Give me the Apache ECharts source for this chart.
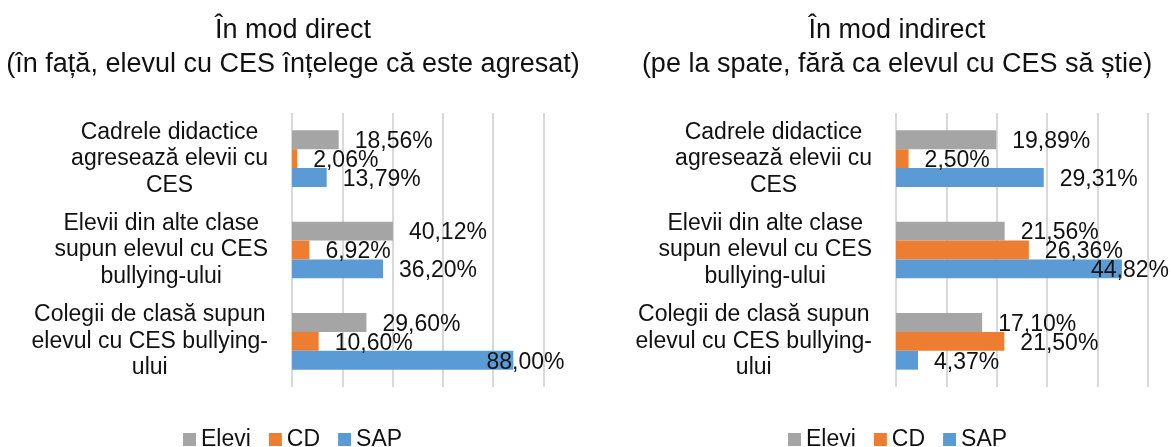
<!DOCTYPE html>
<html>
<head>
<meta charset="utf-8">
<script src="https://cdn.jsdelivr.net/npm/echarts@6/dist/echarts.min.js"></script>
<style>
  html, body { margin: 0; padding: 0; background: #fff; }
  #chart { width: 1172px; height: 447px; }
</style>
</head>
<body>
<div id="chart"></div>
<script>
const categories = [
  'Cadrele didactice\nagresează elevii cu\nCES',
  'Elevii din alte clase\nsupun elevul cu CES\nbullying-ului',
  'Colegii de clasă supun\nelevul cu CES bullying-\nului',
]
const seriesNames = ['Elevi', 'CD', 'SAP']
const colors = ['#A5A5A5', '#ED7D31', '#5B9BD5']

const directTitle = 'În mod direct\n(în față, elevul cu CES înțelege că este agresat)'
const indirectTitle = 'În mod indirect\n(pe la spate, fără ca elevul cu CES să știe)'

const directElevi = [18.56, 40.12, 29.6]
const directCD = [2.06, 6.92, 10.6]
const directSAP = [13.79, 36.2, 88.0]

const indirectElevi = [19.89, 21.56, 17.1]
const indirectCD = [2.5, 26.36, 21.5]
const indirectSAP = [29.31, 44.82, 4.37]

const FONT = "'Liberation Sans', Arial, sans-serif"
const TEXT = '#111'

const chart = echarts.init(document.getElementById('chart'))

const fmt = (v) => v.toFixed(2).replace('.', ',') + '%'

function labelWrap(v) {
  return v.split('\n').map((l) => '{c|' + l + '}').join('\n')
}

const panels = [
  { data: [directElevi, directCD, directSAP], max: 100, interval: 20 },
  { data: [indirectElevi, indirectCD, indirectSAP], max: 50, interval: 10 },
]

function buildSeries(offsets) {
  const out = []
  panels.forEach((p, g) => {
    p.data.forEach((vals, s) => {
      out.push({
        name: seriesNames[s],
        type: 'bar',
        xAxisIndex: g,
        yAxisIndex: g,
        barGap: '0%',
        barCategoryGap: '38%',
        itemStyle: { color: colors[s] },
        data: vals.map((v, i) => {
          const off = offsets ? offsets[g][s][i] : 0
          return { value: v, label: { offset: [off, 2] } }
        }),
        label: {
          show: true,
          position: 'right',
          distance: 16,
          color: TEXT,
          fontSize: 23,
          fontFamily: FONT,
          formatter: (p) => fmt(p.value),
        },
      })
    })
  })
  return out
}

const grids = [
  { left: 292, width: 251.5, top: 113, height: 274 },
  { left: 896, width: 252, top: 113, height: 274 },
]

const titleStyle = { fontSize: 27, fontWeight: 'normal', color: TEXT, lineHeight: 34, fontFamily: FONT }
const legendBase = {
  data: seriesNames,
  top: 428,
  padding: 0,
  itemWidth: 13,
  itemHeight: 13,
  itemGap: 18,
  icon: 'rect',
  textStyle: { fontSize: 23, color: TEXT, fontFamily: FONT },
}

const option = {
  animation: false,
  backgroundColor: '#fff',
  textStyle: { fontFamily: FONT },
  title: [
    { text: directTitle, left: 293, top: 14, textAlign: 'center', padding: 0, textStyle: titleStyle },
    { text: indirectTitle, left: 897, top: 14, textAlign: 'center', padding: 0, textStyle: titleStyle },
  ],
  legend: [
    { ...legendBase, left: 183 },
    { ...legendBase, left: 788 },
  ],
  grid: grids,
  xAxis: panels.map((p, g) => ({
    type: 'value',
    gridIndex: g,
    min: 0,
    max: p.max,
    interval: p.interval,
    axisLabel: { show: false },
    axisLine: { show: false },
    axisTick: { show: false },
    splitLine: { lineStyle: { color: '#D9D9D9', width: 2 } },
  })),
  yAxis: panels.map((p, g) => ({
    type: 'category',
    gridIndex: g,
    inverse: true,
    data: categories,
    axisLine: { show: false },
    axisTick: { show: false },
    axisLabel: {
      margin: 24,
      align: 'right',
      color: TEXT,
      fontSize: 23,
      fontFamily: FONT,
      formatter: labelWrap,
      rich: { c: { align: 'center', fontSize: 23, lineHeight: 26.5, color: TEXT, fontFamily: FONT } },
    },
  })),
  series: buildSeries(null),
}

chart.setOption(option)

// keep data labels inside the panel, like the original does for long bars
const ctx = document.createElement('canvas').getContext('2d')
ctx.font = '23px ' + FONT
const offsets = panels.map((p, g) => {
  const limit = grids[g].left + grids[g].width + 21
  return p.data.map((vals) =>
    vals.map((v) => {
      const end = chart.convertToPixel({ xAxisIndex: g }, v)
      const w = ctx.measureText(fmt(v)).width
      const over = end + 16 + w - limit
      return over > 0 ? -over : 0
    })
  )
})
chart.setOption({ series: buildSeries(offsets) })
</script>
</body>
</html>
